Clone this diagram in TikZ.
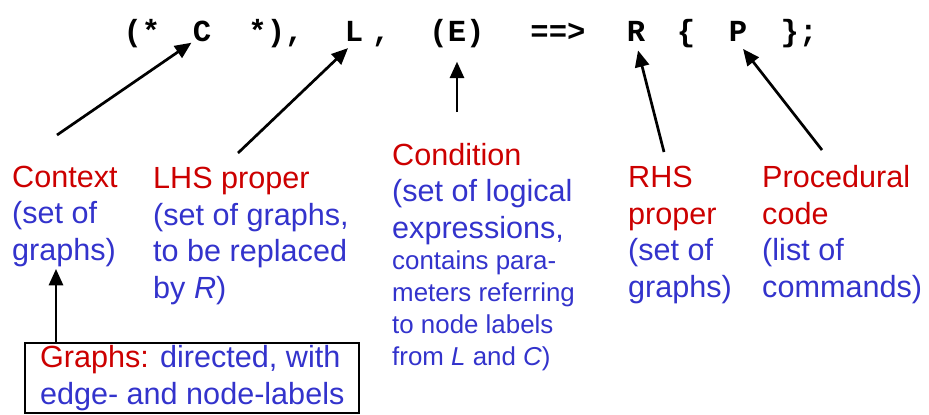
\documentclass[tikz,border=0pt]{standalone}
\usepackage{fontspec}
\setmainfont{Liberation Sans}
\setmonofont{Liberation Mono}
\usetikzlibrary{arrows.meta}
\definecolor{termred}{RGB}{204,0,0}
\definecolor{termblue}{RGB}{51,51,204}
\newcommand{\bigfont}{\fontsize{26}{31}\selectfont}
\newcommand{\smallfont}{\fontsize{22}{27}\selectfont}

\begin{document}
\begin{tikzpicture}[
    x=0.85pt, y=-0.85pt,
    tok/.style={font=\fontsize{26}{30}\selectfont\ttfamily\bfseries, anchor=base, inner sep=1pt},
    term/.style={font=\bigfont, text=termblue, align=left, anchor=base west, inner xsep=0pt, inner ysep=2pt},
    note/.style={term, font=\smallfont},
    ptr/.style={-{Triangle[length=14pt,width=12pt]}, line width=2.3pt},
    graphbox/.style={draw, line width=2.1pt, font=\bigfont, text=termblue, align=left, anchor=north west,
        inner sep=0pt, minimum width=283.9pt, minimum height=59.5pt}
  ]
  \useasboundingbox (0,0) rectangle (929,414);

  % the rule
  \node[tok] (tOpen) at (142,41) {(*};
  \node[tok] (tC) at (202,41) {C};
  \node[tok] (tClose) at (276,41) {*),};
  \node[tok] (tL) at (354,41) {L};
  \node[tok] (tComma) at (381,41) {,};
  \node[tok] (tE) at (457,41) {(E)};
  \node[tok] (tArrow) at (558,41) {==>};
  \node[tok] (tR) at (636,41) {R};
  \node[tok] (tBrace) at (686,41) {\{};
  \node[tok] (tP) at (738,41) {P};
  \node[tok] (tEnd) at (799,41) {\};};

  % parts of the rule (placed at the baseline of their last line)
  \node[term] (ctx) at (12,260) {\textcolor{termred}{Context}\\(set of\\graphs)};
  \node[term] (lhs) at (153,298) {\textcolor{termred}{LHS proper}\\(set of graphs,\\to be replaced\\by \textit{R})};
  \node[term] (cond) at (392,238) {\textcolor{termred}{Condition}\\(set of logical\\expressions,};
  \node[note] (condnote) at (392,365) {contains para-\\meters referring\\to node labels\\from \textit{L} and \textit{C})};
  \node[term] (rhs) at (628,297) {\textcolor{termred}{RHS}\\\textcolor{termred}{proper}\\(set of\\graphs)};
  \node[term] (proc) at (762,297) {\textcolor{termred}{Procedural}\\\textcolor{termred}{code}\\(list of\\commands)};

  \node[graphbox] (graphs) at (24,342) {\textcolor{termred}{Graphs:} directed, with\\edge- and node-labels};

  % pointers
  \coordinate (ctxfoot) at (57,135);
  \coordinate (lhsfoot) at (238,153);
  \coordinate (condfoot) at (457,112);
  \coordinate (rhsfoot) at (664,152);
  \coordinate (procfoot) at (822,150);
  \coordinate (boxtop) at ([xshift=27.2pt]graphs.north west);

  \draw[ptr] (ctxfoot) -- (tC.south west);
  \draw[ptr, shorten >=7pt] (lhsfoot) -- (tL.south);
  \draw[ptr, shorten >=11pt] (condfoot) -- (tE.south);
  \draw[ptr, shorten >=7pt] (rhsfoot) -- (tR.south);
  \draw[ptr, shorten >=7pt] (procfoot) -- (tP.south);
  \draw[ptr] (boxtop) -- (boxtop |- ctx.south);
\end{tikzpicture}
\end{document}
